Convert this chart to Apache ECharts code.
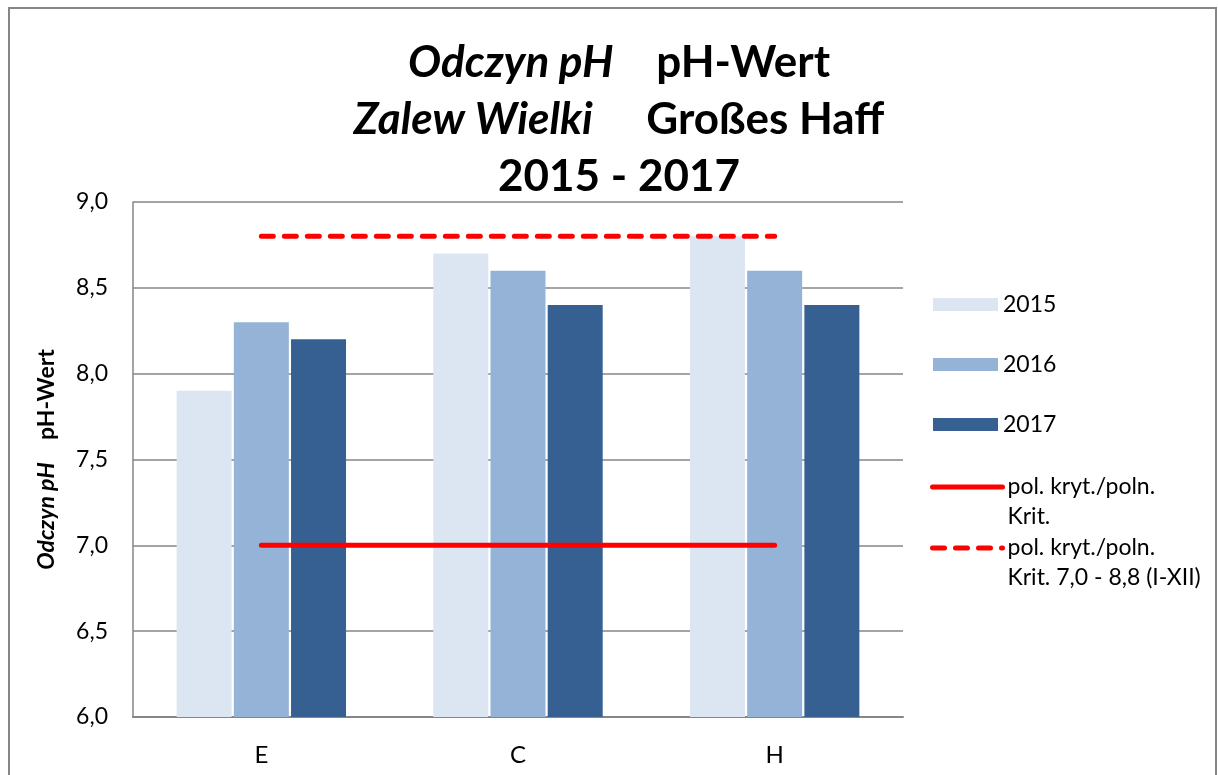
<!DOCTYPE html>
<html style="height: 100%">
    <head>
        <title>Odczyn pH - Zalew Wielki</title>
        <meta charset="utf-8">
    </head>
    <body style="height: 100%; margin: 0">
        <div id="container" style="width: 1218px; height: 775px"></div>

        <script type="text/javascript" src="https://cdn.jsdelivr.net/npm/echarts@6.0.0/dist/echarts.min.js"></script>
        <script type="text/javascript">
            var categories = ['E', 'C', 'H'];
            var years = ['2015', '2016', '2017'];
            var ph2015 = [7.9, 8.7, 8.8];
            var ph2016 = [8.3, 8.6, 8.6];
            var ph2017 = [8.2, 8.4, 8.4];
            var critLow = [7.0, 7.0, 7.0];
            var critHigh = [8.8, 8.8, 8.8];
            var lineNames = ['pol. kryt./poln. Krit.', 'pol. kryt./poln. Krit. 7,0 - 8,8 (I-XII)'];
            var lineLabels = ['pol. kryt./poln.\nKrit.', 'pol. kryt./poln.\nKrit. 7,0 - 8,8 (I-XII)'];

            var barColors = ['#DCE6F2', '#95B3D7', '#366092'];
            var font = 'Lato';

            var dom = document.getElementById("container");
            var myChart = echarts.init(dom);

            var barData = [ph2015, ph2016, ph2017];
            var series = years.map(function (y, i) {
                return {
                    name: y,
                    type: 'bar',
                    data: barData[i],
                    barWidth: 55,
                    barGap: '4%',
                    itemStyle: { color: barColors[i] }
                };
            });
            series.push({
                name: lineNames[0],
                type: 'line',
                data: critLow,
                symbol: 'none',
                lineStyle: { color: '#FF0000', width: 5, cap: 'round' },
                itemStyle: { color: '#FF0000' },
                z: 5
            });
            series.push({
                name: lineNames[1],
                type: 'line',
                data: critHigh,
                symbol: 'none',
                lineStyle: { color: '#FF0000', width: 5, type: [12, 11], cap: 'round' },
                itemStyle: { color: '#FF0000' },
                z: 5
            });

            function barLegend(name, top) {
                return {
                    data: [name],
                    left: 933,
                    top: top,
                    padding: 0,
                    itemWidth: 65,
                    itemHeight: 13,
                    itemGap: 10,
                    icon: 'rect',
                    selectedMode: false,
                    textStyle: { fontFamily: font, fontSize: 23, color: '#000' }
                };
            }
            function lineLegend(idx, top) {
                return {
                    data: [lineNames[idx]],
                    left: 930,
                    top: top,
                    padding: 0,
                    itemWidth: 70,
                    itemHeight: 14,
                    itemGap: 8,
                    selectedMode: false,
                    itemStyle: { opacity: 0 },
                    lineStyle: { width: 5, cap: 'round' },
                    // blank first line keeps the first text line level with the icon
                    formatter: function () { return ' \n' + lineLabels[idx]; },
                    textStyle: {
                        fontFamily: font, fontSize: 23, color: '#000', lineHeight: 30
                    }
                };
            }

            var option = {
                animation: false,
                backgroundColor: '#fff',
                textStyle: { fontFamily: font },
                title: {
                    left: 614,
                    textAlign: 'center',
                    top: 29,
                    text: '{i|Odczyn pH}{b|    pH-Wert}\n{i|Zalew Wielki}{b|     Großes Haff}\n{b|2015 - 2017}',
                    textStyle: {
                        fontFamily: font,
                        lineHeight: 57,
                        rich: {
                            i: { fontFamily: font, fontSize: 44, fontWeight: 'bold', fontStyle: 'italic', color: '#000', lineHeight: 57 },
                            b: { fontFamily: font, fontSize: 44, fontWeight: 'bold', color: '#000', lineHeight: 57 }
                        }
                    }
                },
                legend: [
                    barLegend(years[0], 293),
                    barLegend(years[1], 353),
                    barLegend(years[2], 413),
                    lineLegend(0, 442),
                    lineLegend(1, 503)
                ],
                grid: { left: 133, right: 315, top: 202, bottom: 58 },
                xAxis: {
                    type: 'category',
                    data: categories,
                    axisLine: { lineStyle: { color: '#868686', width: 2 } },
                    axisTick: { show: false },
                    axisLabel: { fontFamily: font, fontSize: 24, color: '#000', margin: 26 }
                },
                yAxis: {
                    type: 'value',
                    min: 6,
                    max: 9,
                    interval: 0.5,
                    name: '{i|Odczyn pH}{b|    pH-Wert}',
                    nameLocation: 'middle',
                    nameGap: 75,
                    nameRotate: 90,
                    nameTextStyle: {
                        rich: {
                            i: { fontFamily: font, fontSize: 23, fontWeight: 'bold', fontStyle: 'italic', color: '#000' },
                            b: { fontFamily: font, fontSize: 23, fontWeight: 'bold', color: '#000' }
                        }
                    },
                    axisLine: { show: true, lineStyle: { color: '#868686', width: 1.5 } },
                    axisTick: { show: false },
                    splitLine: { lineStyle: { color: '#868686', width: 1.5 } },
                    axisLabel: {
                        fontFamily: font, fontSize: 23, color: '#000', margin: 25,
                        formatter: function (v) { return v.toFixed(1).replace('.', ','); }
                    }
                },
                graphic: [{
                    type: 'rect',
                    shape: { x: 9, y: 8, width: 1207, height: 800 },
                    style: { fill: 'none', stroke: '#868686', lineWidth: 2 },
                    silent: true
                }],
                series: series
            };

            myChart.setOption(option);
            window.onresize = function () {
                myChart.resize();
            };
        </script>
    </body>
</html>
